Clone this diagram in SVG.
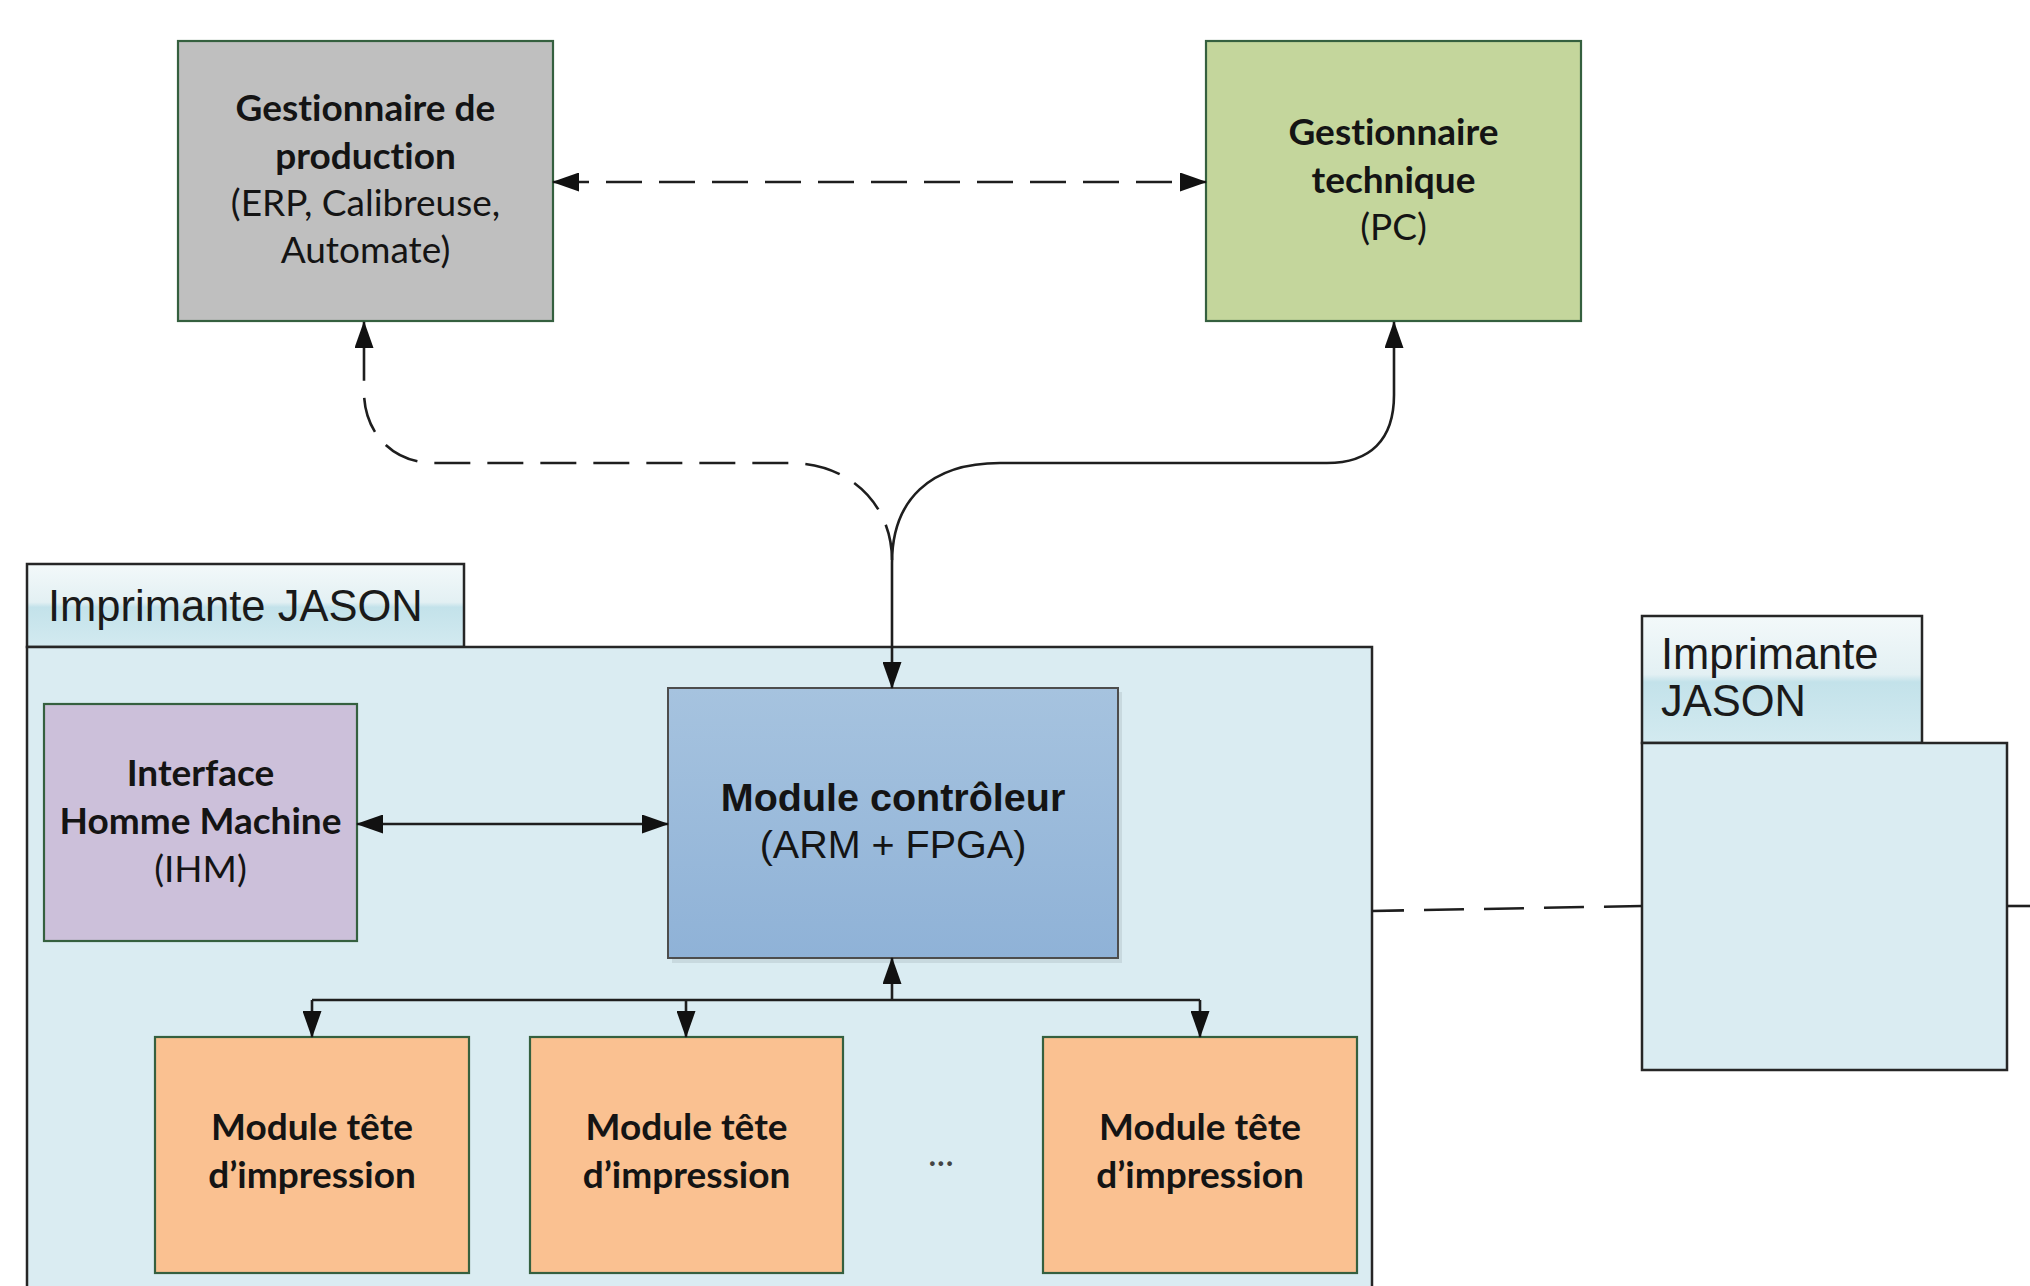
<svg xmlns="http://www.w3.org/2000/svg" width="2030" height="1286" viewBox="0 0 2030 1286">
  <style>
    .frame { fill: #daecf2; stroke: #262626; stroke-width: 2.5; }
    .tab { fill: url(#tabGrad); stroke: #262626; stroke-width: 2.5; }
    .box { stroke: #35603f; stroke-width: 2.2; }
    .lbl { font-family: Lato, "Open Sans", "Liberation Sans", sans-serif; font-size: 37px; fill: #141414; text-anchor: middle; font-variant-ligatures: none; }
    .b { font-weight: bold; }
    .arial { font-family: "Liberation Sans", Arial, sans-serif; }
    .tabtxt { font-family: "Liberation Sans", Arial, sans-serif; font-size: 43.5px; fill: #1a1a1a; }
    .conn { fill: none; stroke: #1e1e1e; stroke-width: 2.6; }
    .dash { stroke-dasharray: 36 17; }
  </style>
  <defs>
    <linearGradient id="tabGrad" x1="0" y1="0" x2="0" y2="1">
      <stop offset="0" stop-color="#f3f9fa"/>
      <stop offset="0.46" stop-color="#e3f0f3"/>
      <stop offset="0.52" stop-color="#c3e2ea"/>
      <stop offset="1" stop-color="#d3eaf0"/>
    </linearGradient>
    <linearGradient id="ctrlGrad" x1="0" y1="0" x2="0" y2="1">
      <stop offset="0" stop-color="#a6c3df"/>
      <stop offset="1" stop-color="#8fb2d7"/>
    </linearGradient>
    <marker id="arr" viewBox="0 0 27 19" refX="26" refY="9.5" markerWidth="27" markerHeight="19" markerUnits="userSpaceOnUse" orient="auto-start-reverse">
      <path d="M0,0 L27,9.5 L0,19 z" fill="#111"/>
    </marker>
  </defs>

  <rect width="2030" height="1286" fill="#ffffff"/>

  <!-- Main printer container -->
  <g id="imprimante-jason">
    <rect class="tab" x="27" y="564" width="437" height="83"/>
    <rect class="frame" x="27" y="647" width="1345" height="700"/>
    <text class="tabtxt" x="48" y="621">Imprimante JASON</text>
  </g>

  <!-- Second printer container -->
  <g id="imprimante-jason-2">
    <rect class="tab" x="1642" y="616" width="280" height="127"/>
    <rect class="frame" x="1642" y="743" width="365" height="327"/>
    <text class="tabtxt" x="1661" y="669">Imprimante</text>
    <text class="tabtxt" x="1661" y="716">JASON</text>
  </g>

  <g id="gestionnaire-production">
    <rect class="box" x="178" y="41" width="375" height="280" fill="#bfbfbf"/>
    <text class="lbl b" x="365.5" y="121">Gestionnaire de</text>
    <text class="lbl b" x="365.5" y="168.5">production</text>
    <text class="lbl" x="365.5" y="216">(ERP, Calibreuse,</text>
    <text class="lbl" x="365.5" y="263">Automate)</text>
  </g>

  <g id="gestionnaire-technique">
    <rect class="box" x="1206" y="41" width="375" height="280" fill="#c4d69c"/>
    <text class="lbl b" x="1393.5" y="145">Gestionnaire</text>
    <text class="lbl b" x="1393.5" y="192.5">technique</text>
    <text class="lbl" x="1393.5" y="240">(PC)</text>
  </g>

  <g id="ihm">
    <rect class="box" x="44" y="704" width="313" height="237" fill="#ccc0da"/>
    <text class="lbl b" x="200.5" y="786">Interface</text>
    <text class="lbl b" x="200.5" y="834">Homme Machine</text>
    <text class="lbl" x="200.5" y="882">(IHM)</text>
  </g>

  <g id="module-controleur">
    <rect x="672" y="692" width="450" height="271" fill="#000" opacity="0.08"/>
    <rect x="668" y="688" width="450" height="270" fill="url(#ctrlGrad)" stroke="#4d4d4d" stroke-width="2"/>
    <text class="lbl b arial" x="893" y="811" style="font-size:39.5px">Module contrôleur</text>
    <text class="lbl arial" x="893" y="858" style="font-size:39.5px">(ARM + FPGA)</text>
  </g>

  <g id="module-tete-1">
    <rect class="box" x="155" y="1037" width="314" height="236" fill="#fac191"/>
    <text class="lbl b" x="312" y="1140">Module tête</text>
    <text class="lbl b" x="312" y="1188">d’impression</text>
  </g>

  <g id="module-tete-2">
    <rect class="box" x="530" y="1037" width="313" height="236" fill="#fac191"/>
    <text class="lbl b" x="686.5" y="1140">Module tête</text>
    <text class="lbl b" x="686.5" y="1188">d’impression</text>
  </g>

  <g id="ellipsis">
    <text class="lbl" x="941" y="1166" style="fill:#444">...</text>
  </g>

  <g id="module-tete-3">
    <rect class="box" x="1043" y="1037" width="314" height="236" fill="#fac191"/>
    <text class="lbl b" x="1200" y="1140">Module tête</text>
    <text class="lbl b" x="1200" y="1188">d’impression</text>
  </g>

  <g id="connectors">
    <!-- production <-> technique (dashed) -->
    <path class="conn dash" d="M553,182 L1206,182" marker-start="url(#arr)" marker-end="url(#arr)"/>
    <!-- controller -> production (dashed, curved) -->
    <path class="conn dash" d="M892,560 C892,505 850,463 790,463 L434,463 C392,463 364,432 364,392 L364,322" marker-end="url(#arr)"/>
    <!-- controller <-> technique (solid, curved) -->
    <path class="conn" d="M892,688 L892,563 C892,500 930,463 1000,463 L1327,463 C1370,463 1394,440 1394,395 L1394,322" marker-start="url(#arr)" marker-end="url(#arr)"/>
    <!-- IHM <-> controller -->
    <path class="conn" d="M357,824 L668,824" marker-start="url(#arr)" marker-end="url(#arr)"/>
    <!-- bus -->
    <path class="conn" d="M312,1000 L1200,1000"/>
    <path class="conn" d="M892,1000 L892,958" marker-end="url(#arr)"/>
    <path class="conn" d="M312,1000 L312,1037" marker-end="url(#arr)"/>
    <path class="conn" d="M686,1000 L686,1037" marker-end="url(#arr)"/>
    <path class="conn" d="M1200,1000 L1200,1037" marker-end="url(#arr)"/>
    <!-- printer to printer (dashed) -->
    <path class="conn dash" d="M1372,911 L1642,906" style="stroke-dasharray: 32 20 40 20 40 20 40 20 40 20"/>
    <path class="conn" d="M2007,906 L2030,906"/>
  </g>
</svg>
